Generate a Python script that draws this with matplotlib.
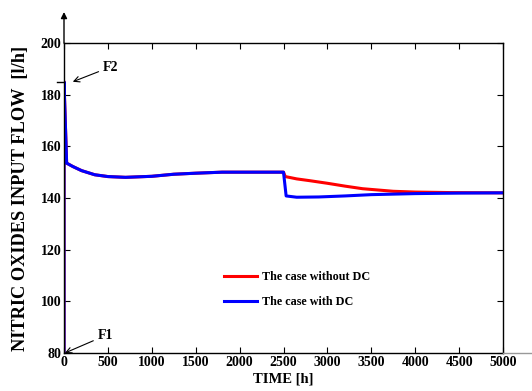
import matplotlib
matplotlib.use("Agg")
import matplotlib.pyplot as plt
from matplotlib.lines import Line2D

# time [h] and nitric oxides input flow [l/h]
t_without_dc = [0, 0, 30, 100, 200, 350, 500, 700, 1000, 1250, 1500, 1800, 2000, 2500,
                2520, 2650, 2800, 3000, 3200, 3400, 3750, 4000, 4400, 5000]
f_without_dc = [80, 185, 153.5, 152.2, 150.6, 149.0, 148.3, 148.0, 148.4, 149.2, 149.6, 150.0, 150.0, 150.0,
                148.3, 147.4, 146.7, 145.7, 144.6, 143.6, 142.6, 142.3, 142.1, 142.0]

t_with_dc = [0, 0, 30, 100, 200, 350, 500, 700, 1000, 1250, 1500, 1800, 2000, 2500,
             2530, 2650, 2900, 3200, 3500, 4000, 4500, 5000]
f_with_dc = [80, 185, 153.5, 152.2, 150.6, 149.0, 148.3, 148.0, 148.4, 149.2, 149.6, 150.0, 150.0, 150.0,
             140.8, 140.3, 140.4, 140.8, 141.3, 141.7, 141.9, 142.0]

f1_level = 80
f2_level = 185
x_ticks = list(range(0, 5001, 500))
y_ticks = list(range(80, 201, 20))

plt.rcParams['font.family'] = ['Liberation Serif', 'DejaVu Serif']
plt.rcParams['font.weight'] = 'bold'

fig = plt.figure(figsize=(5.32, 3.91), dpi=100)
ax = fig.add_axes([0.1203, 0.0972, 0.8252, 0.7928])

ax.plot(t_without_dc, f_without_dc, color='#ff0000', lw=2.2, label='The case without DC')
ax.plot(t_with_dc, f_with_dc, color='#0000ff', lw=2.2, label='The case with DC')

ax.set_xlim(0, 5000)
ax.set_ylim(80, 200)
ax.set_xticks(x_ticks)
ax.set_yticks(y_ticks)
ax.tick_params(direction='in', top=True, right=True, length=4, width=0.8,
               labelsize=10, pad=2)
for lab in ax.get_xticklabels() + ax.get_yticklabels():
    lab.set_fontweight('bold')
for s in ax.spines.values():
    s.set_linewidth(1.0)

ax.set_xlabel('TIME [h]', fontsize=10.5, fontweight='bold', labelpad=3)
ax.set_ylabel('NITRIC OXIDES INPUT FLOW  [l/h]',
              fontsize=13.2, fontweight='bold', labelpad=8)

# arrow on the y axis
ax.annotate('', xy=(0, 1.1), xycoords='axes fraction', xytext=(0, 1.0),
            arrowprops=dict(arrowstyle='-|>', color='black', lw=1.0,
                            mutation_scale=9, shrinkA=0, shrinkB=0),
            annotation_clip=False)

# F2 mark
ax.plot([-80, 0], [f2_level, f2_level], color='black', lw=1.0, clip_on=False)
ax.annotate('F2', xy=(100, f2_level), xytext=(440, 190.7), fontsize=10, fontweight='bold',
            va='center', ha='left',
            arrowprops=dict(arrowstyle='->', color='black', lw=0.8, shrinkA=1, shrinkB=0))
ax.annotate('F1', xy=(10, f1_level), xytext=(380, 86.7), fontsize=10, fontweight='bold',
            va='center', ha='left', annotation_clip=False,
            arrowprops=dict(arrowstyle='->', color='black', lw=0.8, shrinkA=1, shrinkB=0))

leg = ax.legend(loc='upper left', bbox_to_anchor=(0.34, 0.30), frameon=False,
                fontsize=8.7, handlelength=2.7, handletextpad=0.4, labelspacing=1.1)
for txt in leg.get_texts():
    txt.set_fontweight('bold')

# grey extension of the x axis past the frame
fig.add_artist(Line2D([0.9455, 1.0], [0.0972, 0.0972], color='#999999', lw=1.0,
                      transform=fig.transFigure))

fig.savefig('out.png', dpi=100)
